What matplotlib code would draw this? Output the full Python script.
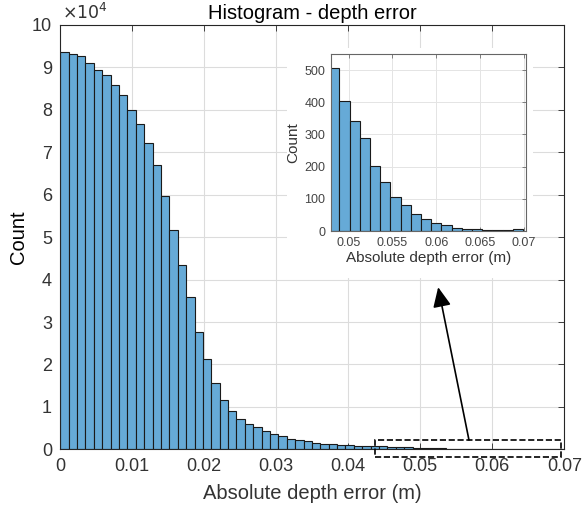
import matplotlib.pyplot as plt
from matplotlib.patches import Rectangle
import numpy as np

plt.rcParams['font.family'] = ['Liberation Sans', 'DejaVu Sans']

# histogram: 60 bins of equal width starting at 0
bin_width = 0.001165
counts = [93570, 93250, 92630, 90980, 89330, 88160, 85800, 83530, 79900, 76600,
          72300, 66900, 59800, 51800, 43500, 35800, 27700, 21300, 15600, 11600,
          9100, 7200, 6000, 5200, 4320, 3690, 3065, 2515, 2120, 1880,
          1600, 1350, 1180, 1100, 960, 850, 780, 720, 680, 640,
          600, 506, 404, 343, 288, 203, 152, 105, 80, 52,
          37, 26, 18, 8, 6, 6, 3, 4, 3, 6]

x_ticks = [0, 0.01, 0.02, 0.03, 0.04, 0.05, 0.06, 0.07]
x_ticklabels = ['0', '0.01', '0.02', '0.03', '0.04', '0.05', '0.06', '0.07']
y_ticks = [0, 1, 2, 3, 4, 5, 6, 7, 8, 9, 10]

inset_xticks = [0.05, 0.055, 0.06, 0.065, 0.07]
inset_xticklabels = ['0.05', '0.055', '0.06', '0.065', '0.07']
inset_yticks = [0, 100, 200, 300, 400, 500]

face = '#66aad7'
axcol = '#262626'
txtcol = '#333333'

edges = np.arange(len(counts)) * bin_width

fig = plt.figure(figsize=(5.82, 5.11), dpi=100)
ax = fig.add_axes([60.3 / 582, 1 - 449.3 / 511, 504 / 582, 424.3 / 511])
ax.bar(edges, counts, width=bin_width, align='edge', color=face,
       edgecolor='#1a1a1a', linewidth=0.8, zorder=2)
ax.set_xlim(0, 0.07)
ax.set_ylim(0, 100000)
ax.set_xticks(x_ticks)
ax.set_xticklabels(x_ticklabels)
ax.set_yticks([v * 1e4 for v in y_ticks])
ax.set_yticklabels([str(v) for v in y_ticks])
ax.grid(True, color='#dcdcdc', linewidth=0.8, zorder=0)
ax.set_axisbelow(True)
ax.tick_params(direction='in', top=True, right=True, length=4, width=0.6,
               colors=axcol, labelcolor=txtcol, labelsize=13, pad=6)
for s in ax.spines.values():
    s.set_color(axcol)
    s.set_linewidth(0.8)
ax.set_title('Histogram - depth error', fontsize=14.5, color='black', pad=4)
ax.set_xlabel('Absolute depth error (m)', fontsize=14.5, color=txtcol, labelpad=7)
ax.set_ylabel('Count', fontsize=14.5, color='black', labelpad=3)
ax.text(0.003, 1.008, r'$\times10^4$', transform=ax.transAxes, fontsize=12.5,
        color=txtcol, ha='left', va='bottom')

# dashed box around the tail and arrow to the zoomed view
ax.add_patch(Rectangle((0.04371, -1740), 0.06954 - 0.04371, 2190 + 1740,
                       fill=False, linestyle='--', linewidth=1.2,
                       edgecolor='black', clip_on=False, zorder=5))
ax.annotate('', xy=(0.05248, 38200), xytext=(0.05676, 2190),
            arrowprops=dict(arrowstyle='-|>,head_length=1.2,head_width=0.55',
                            color='black', lw=1.2, shrinkA=0, shrinkB=0),
            zorder=5)

# white backdrop of the pasted inset picture
fig.patches.append(Rectangle((287 / 582, 1 - 278 / 511), 246 / 582, 230 / 511,
                             transform=fig.transFigure, facecolor='white',
                             edgecolor='none', zorder=3))

ins = fig.add_axes([331 / 582, 1 - 231 / 511, 195 / 582, 177 / 511], zorder=4)
ins.bar(edges, counts, width=bin_width, align='edge', color=face,
        edgecolor='#1a1a1a', linewidth=0.8, zorder=2)
ins.set_xlim(0.04798, 0.07024)
ins.set_ylim(0, 550)
ins.set_xticks(inset_xticks)
ins.set_xticklabels(inset_xticklabels)
ins.set_yticks(inset_yticks)
ins.grid(True, color='#e4e4e4', linewidth=0.7)
ins.set_axisbelow(True)
ins.tick_params(direction='in', top=True, right=True, length=3, width=0.5,
                colors='#555555', labelcolor='#444444', labelsize=9, pad=4)
for s in ins.spines.values():
    s.set_color('#666666')
    s.set_linewidth(0.8)
ins.set_xlabel('Absolute depth error (m)', fontsize=11, color='#333333', labelpad=2)
ins.set_ylabel('Count', fontsize=11, color='#333333', labelpad=3)

fig.savefig('out.png', dpi=100)
